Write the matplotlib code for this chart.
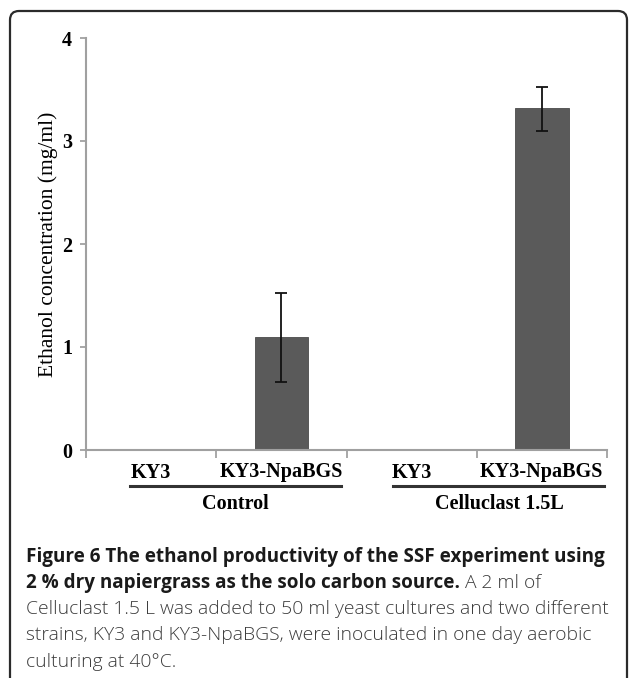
import numpy as np
import matplotlib
matplotlib.use("Agg")
import matplotlib.pyplot as plt
from matplotlib.patches import FancyBboxPatch

# data
strains = ["KY3", "KY3-NpaBGS", "KY3", "KY3-NpaBGS"]
ethanol = [0.0, 1.10, 0.0, 3.32]
err_low = [0.0, 0.44, 0.0, 0.22]
err_high = [0.0, 0.42, 0.0, 0.20]
groups = ["Control", "Celluclast 1.5L"]
yticks = [0, 1, 2, 3, 4]

W, H = 629, 678
fig = plt.figure(figsize=(W / 100, H / 100), dpi=100)

# outer rounded frame
frame = FancyBboxPatch((10, -12), 617, 678 - 11 + 12,
                       boxstyle="round,pad=0,rounding_size=9",
                       transform=None, fill=False, ec="#2b2b2b", lw=1.6)
fig.patches.append(frame)

ax = fig.add_axes([86 / W, 1 - 450 / H, (607 - 86) / W, (450 - 38) / H])
x = np.arange(len(strains))
ax.bar(x, ethanol, width=0.41, color="#5a5a5a", edgecolor="#4a4a4a", lw=0.6)
eb_x = [i for i in x if ethanol[i] > 0]
ax.errorbar(eb_x, [ethanol[i] for i in eb_x],
            yerr=[[err_low[i] for i in eb_x], [err_high[i] for i in eb_x]],
            fmt="none", ecolor="#111111", elinewidth=1.3, capsize=4, capthick=1.3)

ax.set_xlim(-0.5, len(strains) - 0.5)
ax.set_ylim(0, 4)
ax.set_yticks(yticks)
ax.set_yticklabels([str(t) for t in yticks], family="Liberation Serif",
                   fontweight="bold", fontsize=14.5)
ax.set_xticks(x)
ax.set_xticklabels(strains, family="Liberation Serif", fontweight="bold", fontsize=14.5)
ax.set_xticks(np.arange(-0.5, len(strains), 1.0), minor=True)
ax.tick_params(axis="x", which="major", length=0, pad=9)
ax.tick_params(axis="x", which="minor", length=6, width=1.2, color="#9a9a9a")
ax.tick_params(axis="y", length=4, width=1.2, color="#9a9a9a", pad=6)
for s in ["top", "right"]:
    ax.spines[s].set_visible(False)
for s in ["left", "bottom"]:
    ax.spines[s].set_color("#a0a0a0")
    ax.spines[s].set_linewidth(1.5)

ax.set_ylabel("Ethanol concentration (mg/ml)", family="Liberation Serif",
              fontsize=15.5, labelpad=3)

# group brackets under the strain labels
trans = ax.get_xaxis_transform()
group_spans = [(-0.16, 1.46), (1.86, 3.48)]
for (a, b), g in zip(group_spans, groups):
    ax.plot([a, b], [-0.087, -0.087], color="#333333", lw=2.2,
            transform=trans, clip_on=False)
    ax.text((a + b) / 2, -0.13, g, transform=trans, ha="center", va="center",
            family="Liberation Serif", fontweight="bold", fontsize=14.5)

# caption
cap_x = 26 / W
line_y = [557, 583, 609, 635, 662]
bold_kw = dict(family="Open Sans", fontweight="bold", fontsize=13.6, color="#1a1a1a")
reg_kw = dict(family="Open Sans", fontweight="light", fontsize=13.9, color="#3c3c3c")

fig.text(cap_x, 1 - line_y[0] / H,
         "Figure 6 The ethanol productivity of the SSF experiment using",
         va="center", ha="left", **bold_kw)
t2 = fig.text(cap_x, 1 - line_y[1] / H,
              "2 % dry napiergrass as the solo carbon source.",
              va="center", ha="left", **bold_kw)
fig.canvas.draw()
bb = t2.get_window_extent(renderer=fig.canvas.get_renderer())
fig.text(bb.x1 / W + 5 / W, 1 - line_y[1] / H, "A 2 ml of",
         va="center", ha="left", **reg_kw)
rest = ["Celluclast 1.5 L was added to 50 ml yeast cultures and two different",
        "strains, KY3 and KY3-NpaBGS, were inoculated in one day aerobic",
        "culturing at 40\u00b0C."]
for yy, line in zip(line_y[2:], rest):
    fig.text(cap_x, 1 - yy / H, line, va="center", ha="left", **reg_kw)

fig.savefig("out.png", dpi=100)
